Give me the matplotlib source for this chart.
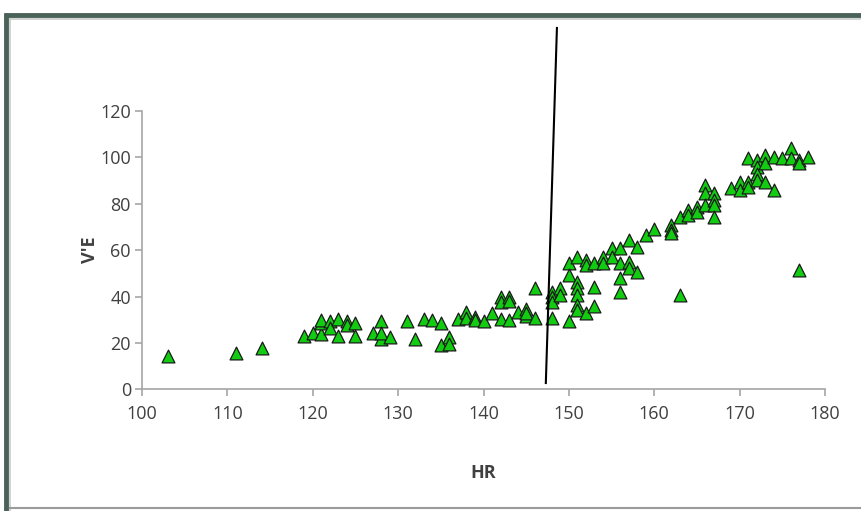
import matplotlib
matplotlib.use("Agg")
import matplotlib.pyplot as plt
from matplotlib.lines import Line2D

hr = [103, 111, 114, 119, 120, 121, 121, 121, 122, 122, 123, 123, 124, 124, 125, 125,
      127, 128, 128, 128, 129, 131, 132, 133, 134, 135, 135, 136, 136, 137, 138, 138,
      139, 139, 140, 141, 142, 142, 142, 143, 143, 143, 144, 145, 145, 145, 146, 146,
      148, 148, 148, 148, 149, 149, 150, 150, 150, 151, 151, 151, 151, 151, 151, 152,
      152, 152, 153, 153, 153, 154, 154, 155, 155, 156, 156, 156, 156, 157, 157, 157,
      158, 158, 159, 160, 162, 162, 162, 163, 163, 164, 164, 165, 165, 166, 166, 166,
      167, 167, 167, 167, 169, 170, 170, 171, 171, 171, 172, 172, 172, 172, 173, 173,
      173, 174, 174, 175, 176, 176, 177, 177, 177, 178]
ve = [14.5, 15.8, 17.9, 23, 24.1, 23.7, 28.4, 29.9, 29.6, 26.3, 23, 30.3, 29.6, 27.7, 28.5, 23,
      24.1, 29.4, 21.6, 24.1, 22.7, 29.6, 21.7, 30.3, 29.9, 28.7, 19.1, 22.7, 19.5, 30.3, 33.5, 30.6,
      31.3, 29.9, 29.6, 32.8, 39.9, 37.8, 30.3, 39.9, 38.2, 29.9, 33.2, 34.5, 31.5, 32.8, 43.6, 30.6,
      42.1, 40, 37.8, 30.6, 43.6, 40.7, 54.3, 49.3, 29.6, 57.2, 46.4, 43.5, 40.7, 36.4, 34.3, 55.8,
      53.6, 32.8, 54.3, 44, 35.9, 57.2, 54.3, 60.8, 57.2, 60.8, 54.3, 47.9, 42.1, 64.4, 55, 52.2,
      61.5, 50.7, 66.5, 69.3, 70.8, 68.9, 67.5, 74.2, 40.7, 77.3, 75.2, 78.7, 76.6, 88.1, 84.5, 79.5,
      84.5, 81.6, 79.5, 74.4, 86.7, 89.5, 85.9, 99.6, 89.5, 87.3, 98.9, 96, 93, 90.2, 101, 97.5,
      89.5, 100.3, 85.9, 99.6, 103.9, 99.6, 98.9, 97.5, 51.4, 100.3]

line_x = [147.3, 148.6]
line_y = [2.7, 155.8]

xticks = [100, 110, 120, 130, 140, 150, 160, 170, 180]
yticks = [0, 20, 40, 60, 80, 100, 120]

W, H = 862, 511
fig = plt.figure(figsize=(W / 100, H / 100), dpi=100)
fig.patch.set_facecolor("white")

# outer frame
fig.add_artist(Line2D([6 / W, 6 / W], [0, 1 - 13 / H], transform=fig.transFigure,
                      color="#4b6259", lw=3.5, solid_capstyle="butt"))
fig.add_artist(Line2D([4 / W, 1], [1 - 15 / H, 1 - 15 / H], transform=fig.transFigure,
                      color="#4b6259", lw=3.5, solid_capstyle="butt"))
fig.add_artist(Line2D([10 / W, 1], [1 - 19 / H, 1 - 19 / H], transform=fig.transFigure,
                      color="#c8cccb", lw=1.2))
fig.add_artist(Line2D([10 / W, 10 / W], [0, 1 - 19 / H], transform=fig.transFigure,
                      color="#c8cccb", lw=1.2))
fig.add_artist(Line2D([10 / W, 1], [3 / H, 3 / H], transform=fig.transFigure,
                      color="#9a9a9a", lw=1.5))

ax = fig.add_axes([142 / W, (H - 389.3) / H, (825 - 142) / W, (389.3 - 111) / H])
ax.set_facecolor("none")
ax.scatter(hr, ve, marker="^", s=85, facecolor="#11cc11", edgecolor="#1a1a1a",
           linewidths=0.9, zorder=3, clip_on=False)
ax.plot(line_x, line_y, color="black", lw=1.5, clip_on=False, zorder=4)

ax.set_xlim(100, 180)
ax.set_ylim(0, 120)
ax.set_xticks(xticks)
ax.set_yticks(yticks)
for s in ["top", "right"]:
    ax.spines[s].set_visible(False)
for s in ["left", "bottom"]:
    ax.spines[s].set_color("#a6a6a6")
    ax.spines[s].set_linewidth(1.2)
ax.tick_params(axis="both", direction="out", length=5, width=1.2, color="#a6a6a6",
               labelsize=13, labelcolor="#404040")
ax.tick_params(axis="y", pad=3)
ax.tick_params(axis="x", pad=6)
for lab in ax.get_xticklabels() + ax.get_yticklabels():
    lab.set_fontfamily("Open Sans")
ax.set_xlabel("HR", fontsize=13, fontweight="bold", color="#404040",
              fontfamily="Open Sans", labelpad=30)
ax.set_ylabel("V'E", fontsize=13, fontweight="bold", color="#404040",
              fontfamily="Open Sans", labelpad=1)

fig.savefig("out.png", dpi=100)
